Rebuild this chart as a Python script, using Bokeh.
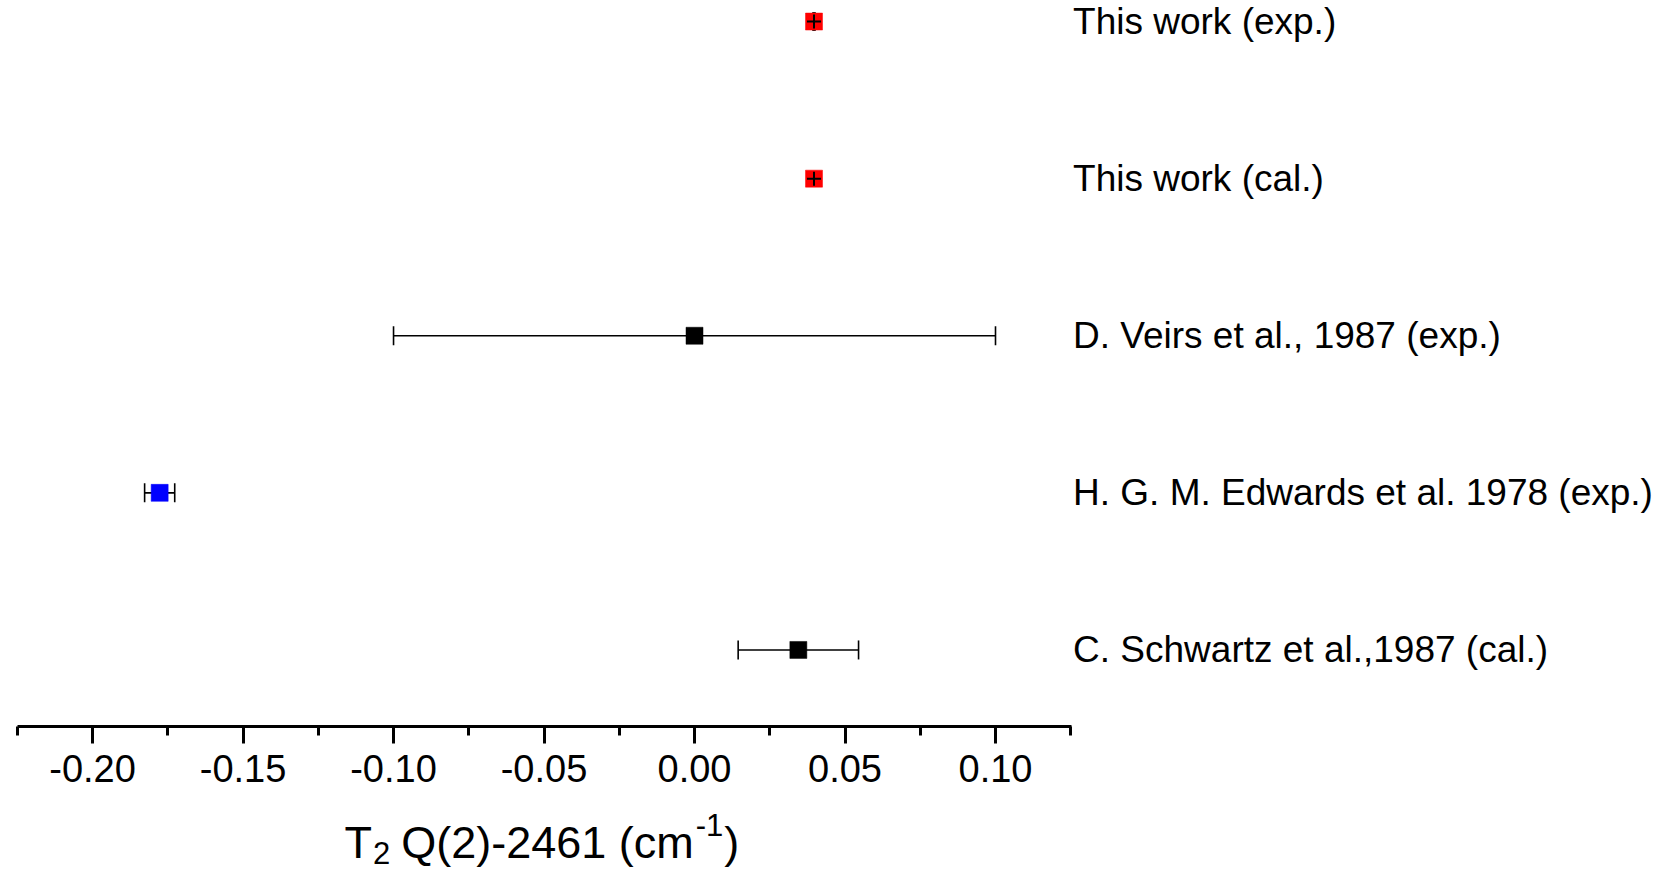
from bokeh.plotting import figure
from bokeh.models import (ColumnDataSource, Range1d, FixedTicker, NumeralTickFormatter,
                          Whisker, TeeHead, Label, LinearAxis)
from bokeh.core.properties import value
from bokeh.embed import file_html
from bokeh.resources import INLINE

# ---------------- data ----------------
labels = ["This work (exp.)", "This work (cal.)", "D. Veirs et al., 1987 (exp.)",
          "H. G. M. Edwards et al. 1978 (exp.)", "C. Schwartz et al.,1987 (cal.)"]
shift = [0.0397, 0.0397, 0.000, -0.1777, 0.0345]     # T2 Q(2) - 2461 (cm-1)
error = [0.0003, None, 0.100, 0.005, 0.020]
colors = ["#ff0000", "#ff0000", "#000000", "#0000ff", "#000000"]
is_this_work = [True, True, False, False, False]
major_ticks = [-0.20, -0.15, -0.10, -0.05, 0.00, 0.05, 0.10]
minor_ticks = [-0.225, -0.175, -0.125, -0.075, -0.025, 0.025, 0.075, 0.125]
axis_bounds = (-0.2251, 0.1251)

# ---------------- geometry ----------------
W, H = 1668, 870
left, top = 15, 0
frame_w, frame_h = W - left, H
x0, x1 = -0.2256, 0.3236
y1 = 5.134
y0 = y1 - frame_h / 157.1
axis_py = 726

n = len(labels)
ypos = [n - i for i in range(n)]

def px_to_x(px):
    return x0 + (px - left) / frame_w * (x1 - x0)

def py_to_y(py):
    return y1 - (py - top) / frame_h * (y1 - y0)

p = figure(width=W, height=H, output_backend="svg", toolbar_location=None,
           x_range=Range1d(x0, x1), y_range=Range1d(y0, y1),
           y_axis_location=None, x_axis_location=None,
           min_border_left=left, min_border_right=0, min_border_top=top,
           min_border_bottom=0)
p.outline_line_color = None
p.grid.visible = False
p.background_fill_color = "white"
p.border_fill_color = "white"

xaxis = LinearAxis(ticker=FixedTicker(ticks=major_ticks, minor_ticks=minor_ticks),
                   formatter=NumeralTickFormatter(format="0.00"))
xaxis.bounds = axis_bounds
xaxis.fixed_location = py_to_y(axis_py)
xaxis.axis_line_width = 3
xaxis.axis_line_color = "black"
xaxis.major_tick_line_width = 3
xaxis.minor_tick_line_width = 3
xaxis.major_tick_line_color = "black"
xaxis.minor_tick_line_color = "black"
xaxis.major_tick_in = 0
xaxis.major_tick_out = 17
xaxis.minor_tick_in = 0
xaxis.minor_tick_out = 9
xaxis.major_label_text_font = "Liberation Sans"
xaxis.major_label_text_font_size = "38px"
xaxis.major_label_text_color = "black"
xaxis.major_label_standoff = 11
p.add_layout(xaxis, "below")

# error bars
eb_idx = [i for i in range(n) if error[i] is not None]
eb = ColumnDataSource(dict(
    y=[ypos[i] for i in eb_idx],
    lo=[shift[i] - error[i] for i in eb_idx],
    hi=[shift[i] + error[i] for i in eb_idx]))
w = Whisker(source=eb, base="y", lower="lo", upper="hi", dimension="width",
            line_color="black", line_width=1.6,
            upper_head=TeeHead(size=19, line_width=1.6, line_color="black"),
            lower_head=TeeHead(size=19, line_width=1.6, line_color="black"))
p.add_layout(w)

src = ColumnDataSource(dict(x=shift, y=ypos, c=colors, label=labels))
p.scatter("x", "y", source=src, marker="square", size=17, fill_color="c",
          line_color="c", line_width=0.5)

tw = ColumnDataSource(dict(x=[shift[i] for i in range(n) if is_this_work[i]],
                           y=[ypos[i] for i in range(n) if is_this_work[i]]))
p.scatter("x", "y", source=tw, marker="cross", size=14, line_color="black", line_width=2)

# right-hand labels
p.text(x=axis_bounds[1], y="y", text="label", source=src, x_offset=2,
       text_font=value("Liberation Sans"), text_font_size="37px",
       text_baseline="middle", text_align="left", text_color="black")

# axis title: T2 Q(2)-2461 (cm-1) with sub/superscript
arial = {"T": .611, "Q": .778, "(": .333, ")": .333, "-": .333, " ": .278,
         "c": .5, "m": .833, "0": .556, "1": .556, "2": .556, "4": .556, "6": .556}

def tw_(s, fs):
    return sum(arial[ch] for ch in s) * fs

F, FS = 45, 31
# (text, font size, baseline shift, gap before)
parts = [("T", F, 0, 0), ("2", FS, 10, 1), ("Q(2)-2461 (cm", F, 0, 11),
         ("-1", FS, -18, 2), (")", F, 0, 1)]
xpx = 344
base = 842
for txt, fs, dy, gap in parts:
    xpx += gap
    p.add_layout(Label(x=px_to_x(xpx), y=py_to_y(base + dy), text=txt,
                       text_font="Liberation Sans", text_font_size=f"{fs}px",
                       text_baseline="alphabetic", text_align="left", text_color="black"))
    xpx += tw_(txt, fs)

open("out.html", "w").write(file_html(p, INLINE))
